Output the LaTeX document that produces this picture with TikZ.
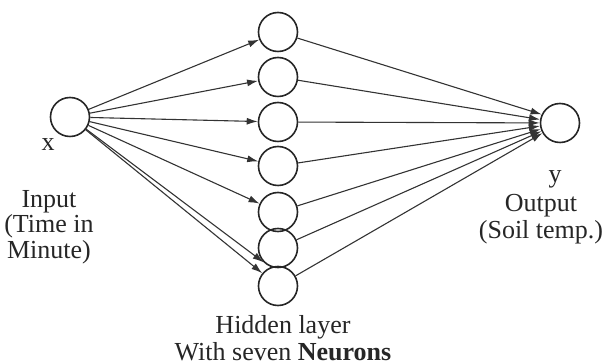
\documentclass[tikz,border=0pt]{standalone}
\usepackage{fontspec}
\setmainfont{Liberation Serif}
\usetikzlibrary{arrows.meta}

\begin{document}
\begin{tikzpicture}[x=0.5pt, y=0.5pt,
    neuron/.style={circle, draw=black!85, line width=0.8pt, minimum size=19.5pt, inner sep=0pt},
    conn/.style={-{Latex[length=5.5pt, width=3.5pt]}, draw=black!80, line width=0.55pt},
    lbl/.style={font=\fontsize{13}{12.8}\selectfont, align=center, text=black!85}]
    \useasboundingbox (0,0) rectangle (606,364);

    % Input neuron
    \node[neuron] (in) at (70,247) {};
    \node[lbl] (xlbl) at (48,219) {x};
    \node[lbl] (inlbl) at (49,137) {Input\\(Time in\\Minute)};

    % Hidden layer
    \node[neuron] (h1) at (278,332) {};
    \node[neuron] (h2) at (278,287) {};
    \node[neuron] (h3) at (278,242) {};
    \node[neuron] (h4) at (278,198) {};
    \node[neuron] (h5) at (278,152) {};
    \node[neuron] (h6) at (278,116) {};
    \node[neuron] (h7) at (278,78) {};
    \node[lbl] (hidlbl) at (283,26) {Hidden layer\\[1pt]With seven \textbf{Neurons}};

    % Output neuron
    \node[neuron] (out) at (560,241) {};
    \node[lbl] (ylbl) at (555,185) {y};
    \node[lbl] (outlbl) at (541,145) {Output\\[1pt](Soil temp.)};

    % Input to hidden
    \draw[conn] (in) -- (h1);
    \draw[conn] (in) -- (h2);
    \draw[conn] (in) -- (h3);
    \draw[conn] (in) -- (h4);
    \draw[conn] (in) -- (h5);
    \draw[conn] (in) -- (h6.south west);
    \draw[conn] (in) -- (h7);

    % Hidden to output
    \draw[conn] (h1) -- (out.155);
    \draw[conn] (h2) -- (out.170);
    \draw[conn] (h3) -- (out);
    \draw[conn] (h4) -- (out);
    \draw[conn] (h5) -- (out);
    \draw[conn] (h6) -- (out);
    \draw[conn] (h7) -- (out);
\end{tikzpicture}
\end{document}
